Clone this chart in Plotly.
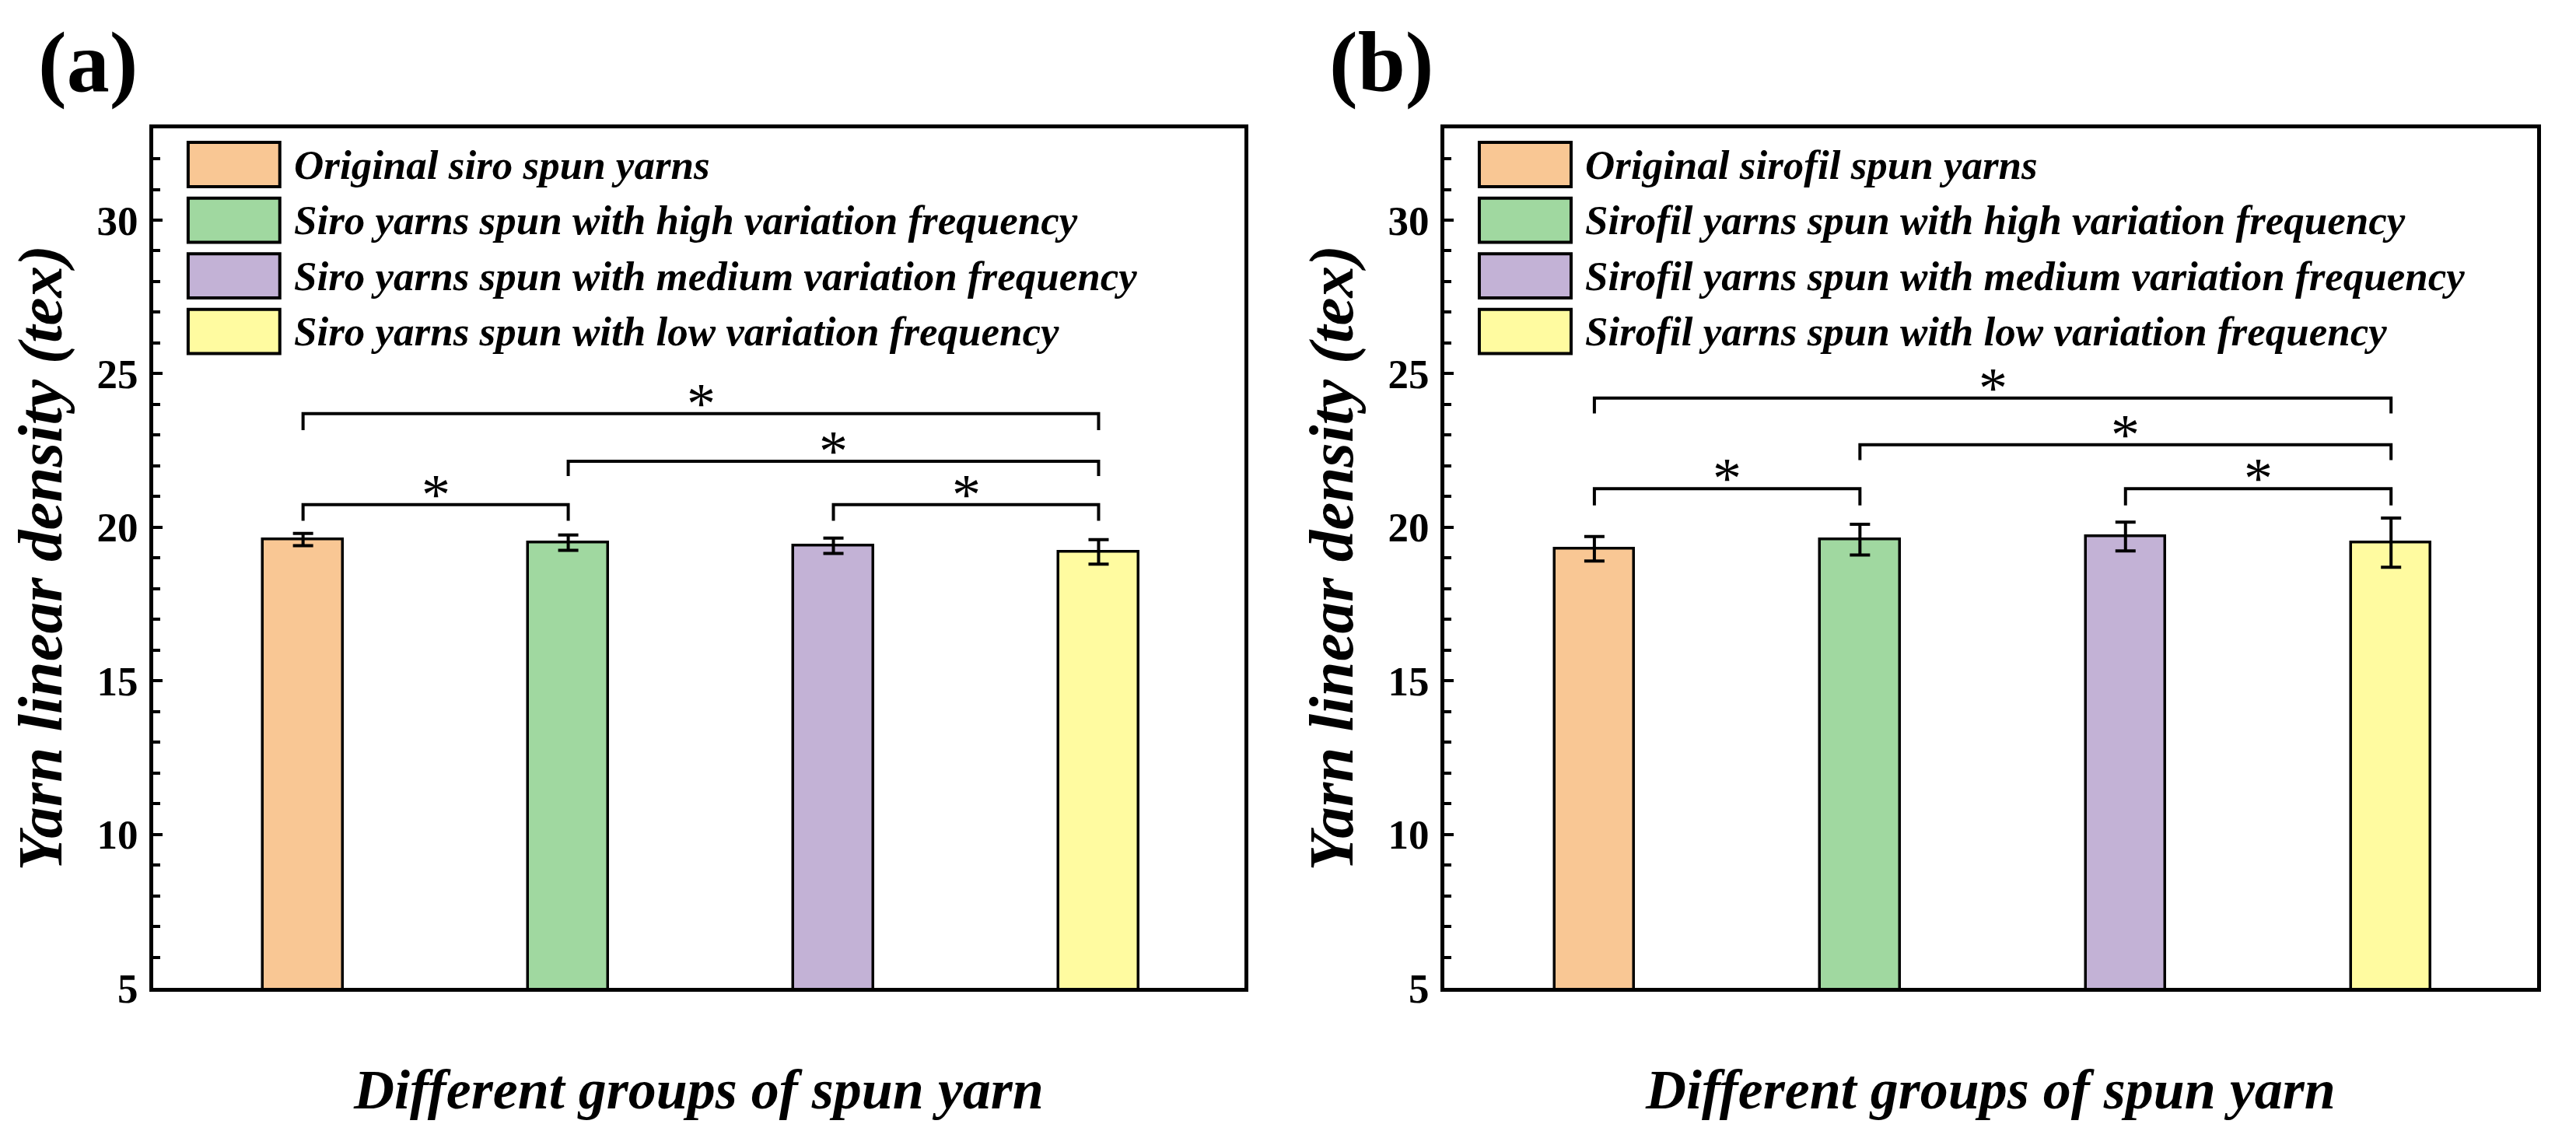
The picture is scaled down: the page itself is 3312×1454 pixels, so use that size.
import plotly.graph_objects as go

# ---------------- data ----------------
categories = [1, 2, 3, 4]
colors = ["#F9C794", "#A0D8A0", "#C3B2D6", "#FFFBA0"]

labels_a = ["Original siro spun yarns",
            "Siro yarns spun with high variation frequency",
            "Siro yarns spun with medium variation frequency",
            "Siro yarns spun with low variation frequency"]
labels_b = ["Original sirofil spun yarns",
            "Sirofil yarns spun with high variation frequency",
            "Sirofil yarns spun with medium variation frequency",
            "Sirofil yarns spun with low variation frequency"]

means_a = [19.6, 19.5, 19.4, 19.2]
err_a = [0.2, 0.25, 0.25, 0.4]
means_b = [19.3, 19.6, 19.7, 19.5]
err_b = [0.4, 0.5, 0.47, 0.8]

pairs = [(1, 4), (2, 4), (1, 2), (3, 4)]
bracket_top_a = [23.70, 22.15, 20.74, 20.74]
bracket_leg_a = [23.16, 21.67, 20.21, 20.21]
bracket_top_b = [24.21, 22.69, 21.26, 21.26]
bracket_leg_b = [23.71, 22.19, 20.71, 20.71]
star_text = "*"

y_ticks = [5, 10, 15, 20, 25, 30]
y_minor = list(range(5, 34))
y_range = [5, 33]
x_range = [0.435, 4.55]

panel_labels = ["(a)", "(b)"]
x_title = "Different groups of spun yarn"
y_title = "Yarn linear density (tex)"

FONT = "Times New Roman, Liberation Serif, serif"

fig = go.Figure()

panels = [
    dict(means=means_a, err=err_a, top=bracket_top_a, leg=bracket_leg_a, labels=labels_a, xa="x", ya="y"),
    dict(means=means_b, err=err_b, top=bracket_top_b, leg=bracket_leg_b, labels=labels_b, xa="x2", ya="y2"),
]

annotations = []
shapes = []

for p in panels:
    fig.add_trace(go.Bar(
        x=categories, y=p["means"], width=0.3,
        marker=dict(color=colors, line=dict(color="black", width=3.5)),
        error_y=dict(type="data", array=p["err"], visible=True,
                     color="black", thickness=4, width=13),
        xaxis=p["xa"], yaxis=p["ya"], showlegend=False,
    ))
    for (i, j), t, l in zip(pairs, p["top"], p["leg"]):
        fig.add_trace(go.Scatter(
            x=[i, i, j, j], y=[l, t, t, l], mode="lines",
            line=dict(color="black", width=4),
            xaxis=p["xa"], yaxis=p["ya"], showlegend=False, hoverinfo="skip",
        ))
        annotations.append(dict(
            x=(i + j) / 2, y=t, xref=p["xa"], yref=p["ya"], text=star_text,
            showarrow=False, xanchor="center", yanchor="bottom", yshift=-30,
            font=dict(family=FONT, size=74, color="black"),
        ))
    # manual legend
    xd = p["xa"] + " domain"
    yd = p["ya"] + " domain"
    row0 = 0.9575
    step = 0.0647
    h = 0.0257
    for k, (lab, col) in enumerate(zip(p["labels"], colors)):
        yc = row0 - k * step
        shapes.append(dict(type="rect", xref=xd, yref=yd,
                           x0=0.032, x1=0.116, y0=yc - h, y1=yc + h,
                           fillcolor=col, line=dict(color="black", width=4)))
        annotations.append(dict(
            x=0.1276, y=yc, xref=xd, yref=yd, text=f"<b><i>{lab}</i></b>",
            showarrow=False, xanchor="left", yanchor="middle",
            font=dict(family=FONT, size=53, color="black"),
        ))

# panel labels
for lab, xp in zip(panel_labels, [113 / 3312, 1776 / 3312]):
    annotations.append(dict(
        x=xp, y=1 - 82 / 1454, xref="paper", yref="paper", text=f"<b>{lab}</b>",
        showarrow=False, xanchor="center", yanchor="middle",
        font=dict(family=FONT, size=110, color="black"),
    ))

yaxis_common = dict(
    range=y_range, tickvals=y_ticks, ticks="inside", ticklen=12, tickwidth=4,
    tickcolor="black", showline=True, mirror=True, linewidth=5, linecolor="black",
    showgrid=False, zeroline=False, ticklabelstandoff=4,
    tickfont=dict(family=FONT, size=53, color="black", weight="bold"),
    minor=dict(tickvals=y_minor, ticks="inside", ticklen=9, tickwidth=4, tickcolor="black", showgrid=False),
    title=dict(text=y_title, standoff=20,
               font=dict(family=FONT, size=81, color="black", weight="bold", style="italic")),
)
xaxis_common = dict(
    range=x_range, showticklabels=False, ticks="", showline=True, mirror=True,
    linewidth=5, linecolor="black", showgrid=False, zeroline=False,
    title=dict(text=x_title, standoff=102,
               font=dict(family=FONT, size=72, color="black", weight="bold", style="italic")),
)

y_dom = [1 - 1297 / 1454, 1 - 168 / 1454]
fig.update_layout(
    width=3312, height=1454, autosize=False,
    margin=dict(l=0, r=0, t=0, b=0),
    paper_bgcolor="white", plot_bgcolor="white",
    xaxis=dict(domain=[197 / 3312, 1600 / 3312], anchor="y", **xaxis_common),
    yaxis=dict(domain=y_dom, anchor="x", **yaxis_common),
    xaxis2=dict(domain=[1857 / 3312, 3262 / 3312], anchor="y2", **xaxis_common),
    yaxis2=dict(domain=y_dom, anchor="x2", **yaxis_common),
    annotations=annotations, shapes=shapes, bargap=0,
)

fig.write_html("out.html")
